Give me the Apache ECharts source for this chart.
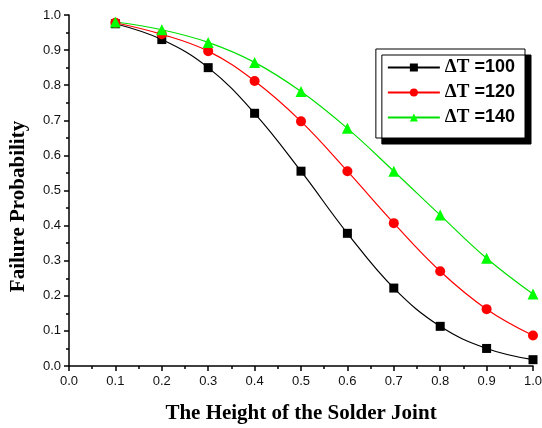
<!DOCTYPE html>
<html>
<head>
<meta charset="utf-8">
<script src="https://cdn.jsdelivr.net/npm/echarts@6/dist/echarts.min.js"></script>
<style>
  html, body { margin: 0; padding: 0; background: #fff; }
  #chart { width: 542px; height: 428px; }
</style>
</head>
<body>
<div id="chart"></div>
<script>
// solder joint height (x) and failure probability per delta T
const heights = [0.1, 0.2, 0.3, 0.4, 0.5, 0.6, 0.7, 0.8, 0.9, 1.0];
const dt100 = [0.975, 0.930, 0.850, 0.720, 0.555, 0.378, 0.222, 0.113, 0.050, 0.018];
const dt120 = [0.978, 0.945, 0.897, 0.812, 0.697, 0.555, 0.407, 0.270, 0.162, 0.087];
const dt140 = [0.980, 0.958, 0.922, 0.865, 0.782, 0.677, 0.555, 0.430, 0.307, 0.205];
const seriesNames = ["\u0394T =100", "\u0394T =120", "\u0394T =140"];

const pairs = (ys) => heights.map((x, i) => [x, ys[i]]);

const chart = echarts.init(document.getElementById("chart"));

const axisCommon = {
  type: "value",
  min: 0,
  max: 1,
  interval: 0.1,
  axisLine: { show: true, onZero: false, lineStyle: { color: "#000", width: 1.5 } },
  axisTick: { show: true, inside: false, length: 5, lineStyle: { color: "#000", width: 1.5 } },
  minorTick: { show: true, splitNumber: 2, length: 3, lineStyle: { color: "#000", width: 1.5 } },
  splitLine: { show: false },
  axisLabel: {
    color: "#111",
    fontFamily: "Liberation Sans, Arial",
    fontSize: 13,
    formatter: (v) => v.toFixed(1)
  },
  nameLocation: "middle",
  nameTextStyle: {
    fontFamily: "Liberation Serif, Times New Roman",
    fontWeight: "bold",
    fontSize: 21,
    color: "#000"
  }
};

chart.setOption({
  animation: false,
  backgroundColor: "#fff",
  grid: { left: 69, right: 9, top: 15, bottom: 62, outerBoundsMode: "none", containLabel: false },
  legend: {
    right: 17,
    top: 49,
    orient: "vertical",
    itemWidth: 52,
    itemHeight: 10,
    itemGap: 6,
    padding: [9, 10, 11, 11],
    backgroundColor: "#fff",
    borderColor: "#000",
    borderWidth: 1,
    borderRadius: 0,
    shadowColor: "#000",
    shadowBlur: 0,
    shadowOffsetX: 6,
    shadowOffsetY: 6,
    // delta T in serif, the value in sans, like the original
    formatter: (name) => "{d|" + name.split(" ")[0] + "} " + name.split(" ")[1],
    textStyle: {
      fontFamily: "Liberation Sans, Arial",
      fontWeight: "bold",
      fontSize: 18,
      lineHeight: 16,
      color: "#000",
      rich: {
        d: {
          fontFamily: "Liberation Serif, Times New Roman",
          fontWeight: "bold",
          fontSize: 19,
          lineHeight: 16,
          color: "#000"
        }
      }
    },
    data: seriesNames
  },
  xAxis: Object.assign({}, axisCommon, {
    name: "The Height of the Solder Joint",
    nameGap: 37,
    axisLabel: Object.assign({}, axisCommon.axisLabel, { margin: 9 })
  }),
  yAxis: Object.assign({}, axisCommon, {
    name: "Failure Probability",
    nameGap: 40,
    nameTextStyle: Object.assign({}, axisCommon.nameTextStyle, { padding: [0, 32, 0, 0] }),
    axisLabel: Object.assign({}, axisCommon.axisLabel, { margin: 8 })
  }),
  series: [
    {
      name: seriesNames[0],
      type: "line",
      smooth: 0.4,
      data: pairs(dt100),
      symbol: "rect",
      symbolSize: 9,
      color: "#000",
      lineStyle: { width: 1.2, color: "#000" },
      itemStyle: { color: "#000" }
    },
    {
      name: seriesNames[1],
      type: "line",
      smooth: 0.4,
      data: pairs(dt120),
      symbol: "circle",
      symbolSize: 10,
      color: "#ff0000",
      lineStyle: { width: 1.2, color: "#ff0000" },
      itemStyle: { color: "#ff0000" }
    },
    {
      name: seriesNames[2],
      type: "line",
      smooth: 0.4,
      data: pairs(dt140),
      symbol: "triangle",
      symbolSize: 11,
      color: "#00ff00",
      lineStyle: { width: 1.2, color: "#00e000" },
      itemStyle: { color: "#00ff00" }
    }
  ]
});
</script>
</body>
</html>
